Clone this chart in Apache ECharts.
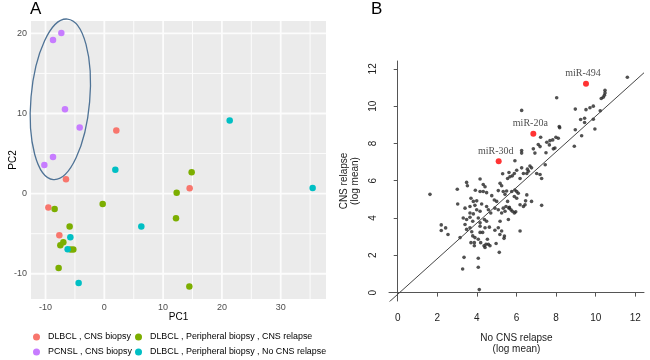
<!DOCTYPE html>
<html>
<head>
<meta charset="utf-8">
<script src="https://cdn.jsdelivr.net/npm/echarts@6.0.0/dist/echarts.min.js"></script>
<style>
  html, body { margin: 0; padding: 0; background: #fff; }
  #chart { width: 650px; height: 360px; }
</style>
</head>
<body>
<div id="chart"></div>
<script>
// ---- panel A : PCA scores per group (PC1, PC2)
const dlbclCns = [[-6.52, 1.78], [2.04, 7.88], [14.51, 0.66], [-9.52, -1.74], [-7.65, -5.19]];
const pcnslCns = [[-7.31, 20.04], [-8.73, 19.17], [-6.69, 10.54], [-4.19, 8.26], [-8.73, 4.56], [-10.2, 3.57]];
const dlbclRelapse = [[-8.45, -1.91], [-0.28, -1.29], [14.85, 2.66], [12.3, 0.12], [12.19, -3.07], [-5.9, -4.11],
  [-6.97, -6.06], [-7.48, -6.43], [-5.73, -6.97], [-5.27, -6.97], [-7.77, -9.29], [14.46, -11.58]];
const dlbclNoRelapse = [[21.32, 9.13], [1.87, 2.99], [35.43, 0.71], [6.29, -4.11], [-5.78, -5.44], [-6.24, -6.93], [-4.37, -11.16]];

const groupNames = ['DLBCL , CNS biopsy', 'PCNSL , CNS biopsy',
  'DLBCL , Peripheral biopsy , CNS relapse', 'DLBCL , Peripheral biopsy , No CNS relapse'];
const groupColors = ['#F8766D', '#C77CFF', '#7CAE00', '#00BFC4'];

// ellipse around the PCNSL group: center, radii (data units), tilt in degrees
const pcnslEllipse = [[-7.48, 11.77, 5.0, 10.05, -5]];

const pcXRange = [-12.47, 37.7];
const pcYRange = [-13.15, 21.54];
const pcXTicks = [-10, 0, 10, 20, 30];
const pcXMinor = [-5, 5, 15, 25, 35];
const pcYTicks = [-10, 0, 10, 20];
const pcYMinor = [-5, 5, 15];

// ---- panel B : log mean expression, no CNS relapse (x) vs CNS relapse (y)
const mirPoints = [
  [11.6, 11.55], [10.47, 10.85], [10.47, 10.71], [10.44, 10.58], [10.28, 10.41], [10.38, 10.48], [8.03, 10.45],
  [6.26, 9.77], [8.97, 9.84], [9.51, 9.81], [9.71, 9.91], [9.88, 10.0], [10.23, 9.75],
  [9.24, 9.28], [9.44, 9.35], [9.44, 9.12], [9.88, 9.3],
  [8.16, 8.91], [8.18, 8.84], [8.97, 8.73], [9.96, 8.77], [9.29, 8.41],
  [7.22, 8.33], [7.99, 8.33], [8.11, 8.28], [7.69, 8.15], [7.83, 8.19], [7.53, 8.06], [7.1, 7.94], [7.19, 7.83],
  [7.66, 7.92], [7.94, 7.75], [7.86, 7.71], [8.92, 7.85],
  [6.85, 7.71], [6.93, 7.48], [7.49, 7.5], [6.26, 7.62], [6.26, 7.48], [5.92, 7.07],
  [7.45, 6.86], [6.68, 6.79], [6.76, 6.69], [6.55, 6.62], [6.6, 6.51], [6.52, 6.39], [6.26, 6.69], [6.35, 6.39],
  [6.18, 6.12], [6.01, 6.56], [5.89, 6.39], [5.79, 6.26], [5.62, 6.44], [5.67, 6.21], [5.55, 6.12],
  [7.02, 6.39], [7.19, 6.33], [7.27, 6.12], [5.3, 6.37],
  [4.16, 6.09], [3.48, 5.91], [3.52, 5.73], [4.32, 5.8], [4.41, 5.68], [5.17, 5.86], [5.25, 5.73],
  [3.01, 5.54], [3.92, 5.49], [4.16, 5.42], [4.32, 5.42], [4.49, 5.36], [5.08, 5.47], [5.33, 5.42],
  [5.5, 5.45], [5.42, 5.27], [4.75, 5.2], [3.7, 5.06], [3.82, 4.89], [3.99, 4.92], [4.24, 4.75],
  [4.88, 4.97], [5.0, 4.89], [3.03, 4.75], [3.4, 4.53], [3.65, 4.62], [3.9, 4.68], [3.99, 4.44],
  [4.16, 4.36], [4.49, 4.62], [4.58, 4.44], [4.7, 4.27], [4.91, 4.53], [5.08, 4.44], [5.33, 4.53],
  [5.47, 4.62], [5.25, 4.27], [5.42, 4.36], [5.64, 4.57], [3.65, 4.27], [3.82, 4.22], [3.31, 4.0],
  [3.48, 3.92], [3.65, 4.04], [3.79, 3.83], [4.07, 4.0], [4.16, 3.74], [4.38, 3.92], [4.49, 3.83],
  [3.4, 3.65], [3.48, 3.39], [3.65, 3.48], [4.16, 3.56], [4.41, 3.48], [4.63, 3.51], [5.17, 3.83],
  [5.08, 3.48], [5.25, 3.3], [4.91, 3.34], [1.63, 5.27],
  [5.76, 5.42], [5.92, 5.5], [6.01, 5.42], [6.09, 5.33], [5.89, 5.15], [6.01, 5.06], [6.18, 4.71],
  [6.35, 4.62], [6.43, 4.71], [6.46, 4.92], [6.52, 5.24], [6.76, 4.89], [7.27, 4.68], [5.55, 4.89],
  [5.62, 4.53], [5.72, 4.44], [5.79, 4.36], [5.89, 4.27], [5.96, 4.33], [5.59, 3.92], [6.18, 3.3],
  [2.2, 3.63], [2.2, 3.33], [2.42, 3.47], [2.54, 3.12],
  [3.15, 2.95], [3.74, 3.26], [3.79, 3.04], [3.9, 2.95], [3.7, 2.68], [3.87, 2.68], [3.87, 2.51],
  [4.07, 2.86], [4.16, 3.23], [4.29, 3.23], [4.19, 2.68], [4.36, 2.51], [4.41, 2.42], [4.46, 2.59],
  [4.58, 2.59], [4.66, 2.51], [4.53, 2.86], [4.97, 2.63], [5.13, 2.16],
  [3.35, 1.89], [3.28, 1.27], [4.07, 1.84], [4.07, 1.36], [4.12, 0.16],
  [5.16, 3.12], [5.39, 3.03], [5.37, 2.91]
];
const highlightNames = ['miR-30d', 'miR-20a', 'miR-494'];
const highlightValues = [[5.1, 7.04], [6.85, 8.52], [9.51, 11.2]];

const fitLine = { intercept: -0.09, slope: 0.955 };
const logTicks = [0, 2, 4, 6, 8, 10, 12];
const logXRange = [-0.44, 12.44];
const logYRange = [-0.45, 12.42];

const sans = 'Liberation Sans, Arial, sans-serif';
const chart = echarts.init(document.getElementById('chart'));

// ggplot grid lines on the grey panel, each one a plain line series
function gridLine(vertical, v, width) {
  return {
    type: 'line',
    xAxisIndex: 0,
    yAxisIndex: 0,
    z: 2,
    silent: true,
    showSymbol: false,
    lineStyle: { color: '#FCFCFC', width: width, opacity: 1 },
    data: vertical ? [[v, pcYRange[0]], [v, pcYRange[1]]] : [[pcXRange[0], v], [pcXRange[1], v]]
  };
}
const gridSeries = []
  .concat(pcXMinor.map(v => gridLine(true, v, 1)))
  .concat(pcYMinor.map(v => gridLine(false, v, 1)))
  .concat(pcXTicks.map(v => gridLine(true, v, 1.8)))
  .concat(pcYTicks.map(v => gridLine(false, v, 1.8)));

const groupData = [dlbclCns, pcnslCns, dlbclRelapse, dlbclNoRelapse];
const groupSeries = groupNames.map((name, i) => ({
  name: name,
  type: 'scatter',
  xAxisIndex: 0,
  yAxisIndex: 0,
  z: 5,
  symbolSize: 6.5,
  itemStyle: { color: groupColors[i], opacity: 1 },
  data: groupData[i]
}));

const legendBase = {
  orient: 'vertical', top: 331, padding: 0, itemWidth: 7, itemHeight: 7, itemGap: 3,
  icon: 'circle', selectedMode: false,
  textStyle: { fontSize: 8.9, lineHeight: 12, color: '#000', fontFamily: sans, padding: [0, 0, 0, 3] }
};

const option = {
  animation: false,
  backgroundColor: '#fff',
  textStyle: { fontFamily: sans },
  grid: [
    { left: 31, top: 21, width: 295, height: 278 },
    { left: 389, top: 61, width: 255, height: 243 }
  ],
  graphic: [
    { type: 'text', left: 30, top: 1, style: { text: 'A', fontSize: 17, fill: '#000', fontFamily: sans } },
    { type: 'text', left: 371, top: 1, style: { text: 'B', fontSize: 17, fill: '#000', fontFamily: sans } }
  ],
  legend: [
    Object.assign({}, legendBase, { left: 33, data: [groupNames[0], groupNames[1]] }),
    Object.assign({}, legendBase, { left: 135, data: [groupNames[2], groupNames[3]] })
  ],
  xAxis: [
    {
      gridIndex: 0, type: 'value', min: pcXRange[0], max: pcXRange[1],
      name: 'PC1', nameLocation: 'middle', nameGap: 13, nameMoveOverlap: false,
      nameTextStyle: { fontSize: 10, color: '#000', fontFamily: sans },
      axisLine: { show: false },
      axisTick: { show: true, length: 3, customValues: pcXTicks, lineStyle: { color: '#333' } },
      axisLabel: { customValues: pcXTicks, fontSize: 9, color: '#4D4D4D', margin: 4, fontFamily: sans },
      splitLine: { show: false }
    },
    {
      gridIndex: 1, type: 'value', min: logXRange[0], max: logXRange[1],
      name: 'No CNS relapse\n(log mean)', nameLocation: 'middle', nameGap: 32,
      nameTextStyle: { fontSize: 10, color: '#222', lineHeight: 11, fontFamily: sans },
      axisLine: { show: true, lineStyle: { color: '#555', width: 1 } },
      axisTick: { show: true, length: 4, customValues: logTicks, lineStyle: { color: '#555' } },
      axisLabel: { customValues: logTicks, fontSize: 10, color: '#222', margin: 12, fontFamily: sans },
      splitLine: { show: false }
    }
  ],
  yAxis: [
    {
      gridIndex: 0, type: 'value', min: pcYRange[0], max: pcYRange[1],
      name: 'PC2', nameLocation: 'middle', nameGap: 13, nameMoveOverlap: false,
      nameTextStyle: { fontSize: 10, color: '#000', fontFamily: sans },
      axisLine: { show: false },
      axisTick: { show: true, length: 3, customValues: pcYTicks, lineStyle: { color: '#333' } },
      axisLabel: { customValues: pcYTicks, fontSize: 9, color: '#4D4D4D', margin: 4, fontFamily: sans },
      splitLine: { show: false }
    },
    {
      gridIndex: 1, type: 'value', min: logYRange[0], max: logYRange[1],
      name: 'CNS relapse\n(log mean)', nameLocation: 'middle', nameGap: 28,
      nameTextStyle: { fontSize: 10, color: '#222', lineHeight: 11, fontFamily: sans },
      axisLine: { show: true, lineStyle: { color: '#555', width: 1 } },
      axisTick: { show: true, length: 4, customValues: logTicks, lineStyle: { color: '#555' } },
      axisLabel: { customValues: logTicks, fontSize: 10, color: '#222', margin: 11, rotate: 90, fontFamily: sans },
      splitLine: { show: false }
    }
  ],
  series: [
    {
      // grey panel behind panel A
      type: 'custom',
      xAxisIndex: 0,
      yAxisIndex: 0,
      z: 1,
      silent: true,
      clip: false,
      data: [[pcXRange[0], pcYRange[1]]],
      renderItem: function (params, api) {
        const tl = api.coord([pcXRange[0], pcYRange[1]]);
        const br = api.coord([pcXRange[1], pcYRange[0]]);
        return {
          type: 'rect',
          shape: { x: tl[0], y: tl[1], width: br[0] - tl[0], height: br[1] - tl[1] },
          style: { fill: '#EBEBEB' }
        };
      }
    }
  ].concat(gridSeries).concat(groupSeries).concat([
    {
      type: 'custom',
      xAxisIndex: 0,
      yAxisIndex: 0,
      z: 6,
      silent: true,
      data: pcnslEllipse,
      renderItem: function (params, api) {
        const c = api.coord([api.value(0), api.value(1)]);
        const s = api.size([api.value(2), api.value(3)]);
        return {
          type: 'ellipse',
          x: c[0], y: c[1],
          rotation: api.value(4) * Math.PI / 180,
          shape: { cx: 0, cy: 0, rx: s[0], ry: s[1] },
          style: { fill: null, stroke: '#4F7396', lineWidth: 1.3 }
        };
      }
    },
    {
      type: 'line',
      xAxisIndex: 1,
      yAxisIndex: 1,
      showSymbol: false,
      silent: true,
      clip: true,
      lineStyle: { color: '#444', width: 1 },
      data: logXRange.map(x => [x, fitLine.intercept + fitLine.slope * x])
    },
    {
      type: 'scatter',
      xAxisIndex: 1,
      yAxisIndex: 1,
      symbolSize: 3.6,
      itemStyle: { color: '#262626' },
      data: mirPoints
    },
    {
      type: 'scatter',
      xAxisIndex: 1,
      yAxisIndex: 1,
      symbolSize: 6,
      itemStyle: { color: '#FF0000' },
      label: {
        show: true, position: 'top', distance: 2, offset: [-3, 0],
        formatter: '{b}', fontSize: 10, color: '#222',
        fontFamily: 'Liberation Serif, Times New Roman, serif'
      },
      data: highlightNames.map((n, i) => ({ name: n, value: highlightValues[i] }))
    }
  ])
};

chart.setOption(option);
</script>
</body>
</html>
